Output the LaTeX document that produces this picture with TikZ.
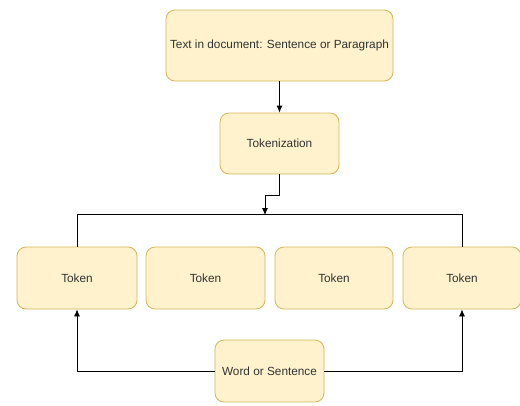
\documentclass[tikz,border=0pt]{standalone}
\usepackage{fontspec}
\setmainfont{Liberation Sans}
\usetikzlibrary{arrows.meta}
\definecolor{boxfill}{HTML}{FFF2CC}
\definecolor{boxline}{HTML}{D6B656}
\definecolor{txt}{HTML}{333333}
\tikzset{
    block/.style={draw=boxline, fill=boxfill, rounded corners=9pt, line width=0.8pt,
        text=txt, font=\fontsize{11.8}{14}\selectfont, align=center, inner sep=0pt},
    arr/.style={-{Latex[length=7pt,width=6pt]}, line width=0.8pt},
    bus/.style={line width=0.8pt}
}
\begin{document}
\begin{tikzpicture}[x=1pt,y=-1pt]
    \useasboundingbox (0,0) rectangle (520,405);
    \node[block, minimum width=227pt, minimum height=71pt] (doc) at (279.5,45.5) {Text in document: Sentence or Paragraph};
    \node[block, minimum width=119pt, minimum height=61pt] (tokz) at (279.5,143.5) {Tokenization};
    \node[block, minimum width=120pt, minimum height=62pt] (tokA) at (77,278) {Token};
    \node[block, minimum width=119pt, minimum height=62pt] (tokB) at (205.5,278) {Token};
    \node[block, minimum width=118pt, minimum height=62pt] (tokC) at (334,278) {Token};
    \node[block, minimum width=118pt, minimum height=62pt] (tokD) at (462,278) {Token};
    \node[block, minimum width=109pt, minimum height=62pt] (word) at (269.5,371) {Word or Sentence};
    \coordinate (hub) at (265,215);
    \draw[arr] (doc.south) -- (tokz.north);
    \draw[arr] (tokz.south) -- ++(0,21) -| (hub);
    \draw[bus] (tokA.north) -- ++(0,-32) -| (tokD.north);
    \draw[arr] (word.west) -| (tokA.south);
    \draw[arr] (word.east) -| (tokD.south);
\end{tikzpicture}
\end{document}
